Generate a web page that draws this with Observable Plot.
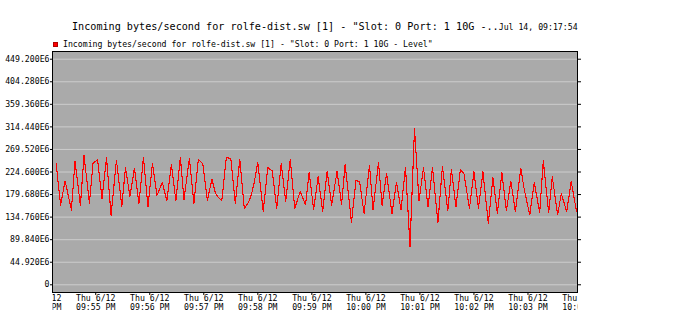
<!DOCTYPE html>
<html><head><meta charset="utf-8">
<script src="https://cdn.jsdelivr.net/npm/d3@7"></script>
<script src="https://cdn.jsdelivr.net/npm/@observablehq/plot@0.6"></script>
<style>
body{margin:0;background:#fff;}
#wrap{position:relative;width:686px;height:333px;overflow:hidden;font-family:"DejaVu Sans Mono",monospace;color:#000;}
#title{position:absolute;left:72px;top:22px;font-size:10.15px;line-height:10px;white-space:pre;}
#title span{font-size:8.2px;}
#swatch{position:absolute;left:53px;top:42px;width:3px;height:3px;background:#ff0000;border:1px solid #b00000;}
#legend{position:absolute;left:63px;top:40px;font-size:8.2px;line-height:8px;white-space:pre;}
#chart{position:absolute;left:0;top:50px;}
</style></head>
<body><div id="wrap">
<div id="title"></div>
<div id="swatch"></div>
<div id="legend"></div>
<div id="chart"></div>
</div>
<script>
const titleText = "Incoming bytes/second for rolfe-dist.sw [1] - \"Slot: 0 Port: 1 10G -..";
const titleStamp = "Jul 14, 09:17:54";
const seriesName = "Incoming bytes/second for rolfe-dist.sw [1] - \"Slot: 0 Port: 1 10G - Level\"";

// sample times (Thu 6/12, 24h clock) and values in units of 1E6 bytes/second
const times = [
"21:54:16","21:54:21","21:54:26","21:54:33","21:54:37","21:54:43","21:54:47","21:54:53","21:54:57","21:55:02",
"21:55:07","21:55:12","21:55:17","21:55:23","21:55:29","21:55:33","21:55:38","21:55:43","21:55:48","21:55:53",
"21:55:58","21:56:03","21:56:08","21:56:14","21:56:19","21:56:24","21:56:29","21:56:34","21:56:38","21:56:44",
"21:56:49","21:56:54","21:56:59","21:57:04","21:57:09","21:57:13","21:57:17","21:57:20","21:57:25","21:57:30",
"21:57:35","21:57:40","21:57:45","21:57:50","21:57:53","21:57:56","21:58:00","21:58:06","21:58:11","21:58:16",
"21:58:21","21:58:26","21:58:31","21:58:36","21:58:41","21:58:47","21:58:53","21:58:57","21:59:02","21:59:07",
"21:59:12","21:59:17","21:59:22","21:59:28","21:59:33","21:59:37","21:59:44","21:59:49","21:59:53","21:59:58",
"22:00:04","22:00:08","22:00:14","22:00:18","22:00:23","22:00:29","22:00:34","22:00:39","22:00:44","22:00:49",
"22:00:54","22:00:59","22:01:04","22:01:09","22:01:14","22:01:20","22:01:25","22:01:31","22:01:35","22:01:40",
"22:01:45","22:01:49","22:01:55","22:02:00","22:02:05","22:02:10","22:02:16","22:02:21","22:02:26","22:02:31",
"22:02:36","22:02:41","22:02:46","22:02:52","22:02:56","22:03:02","22:03:07","22:03:13","22:03:17","22:03:23",
"22:03:27","22:03:33","22:03:37","22:03:43","22:03:48","22:03:54"
];
const values = [
241.6,158.9,206.8,148.9,245.6,158.3,257.5,162.9,241.6,249.6,
171.7,253.5,138.3,248.2,155.7,233.6,175.7,232.2,161.7,253.5,
155.7,241.6,178.3,203.6,166.9,240.2,166.9,253.5,169.3,252.1,
162.3,250.1,240.2,168.3,210.2,182.3,172.3,166.9,253.5,251.5,
161.7,250.1,151.7,165.7,180.3,203.6,244.2,145.7,233.6,226.8,
151.7,241.6,165.7,250.1,151.7,185.7,159.3,223.6,150.3,215.2,
146.3,226.2,158.3,226.2,160.3,240.2,124.4,207.6,205.2,142.3,
238.2,149.3,244.2,158.3,221.2,141.7,203.6,149.3,234.2,76.5,
312.0,167.3,233.6,154.3,233.6,123.4,236.2,146.9,230.2,155.3,
230.2,220.8,151.7,225.2,152.3,225.2,121.8,213.6,142.3,223.6,
147.3,206.2,145.3,232.2,188.3,139.3,203.6,143.7,246.8,143.7,
214.8,139.0,181.7,145.7,205.6,145.7
];
const yTicks = [0, 44.92, 89.84, 134.76, 179.68, 224.6, 269.52, 314.44, 359.36, 404.28, 449.2];
const xTicks = ["21:54","21:55","21:56","21:57","21:58","21:59","22:00","22:01","22:02","22:03","22:04"];
const xDomain = ["21:54:12", "22:03:55"];
const yDomain = [-15.35, 464.55];

const parseT = s => { const [h, m, sec = 0] = s.split(":").map(Number); return new Date(2014, 5, 12, h, m, sec); };
const data = times.map((t, i) => ({t: parseT(t), v: values[i]}));

document.getElementById("title").innerHTML = "";
document.getElementById("title").append(titleText);
const st = document.createElement("span"); st.textContent = titleStamp;
document.getElementById("title").append(st);
document.getElementById("legend").textContent = seriesName;

const fmtDay = d3.timeFormat("%a %-m/%-d");
const fmtTime = d3.timeFormat("%I:%M %p");

const chart = Plot.plot({
  width: 686, height: 283,
  marginLeft: 52, marginRight: 109, marginTop: 1, marginBottom: 41,
  style: {fontFamily: "DejaVu Sans Mono, monospace", fontSize: "8.2px", background: "transparent", color: "black", overflow: "visible"},
  x: {type: "time", domain: xDomain.map(parseT)},
  y: {domain: yDomain},
  marks: [
    Plot.frame({fill: "#aaaaaa"}),
    Plot.gridY({ticks: yTicks, stroke: "#cdcdcd", strokeOpacity: 1, strokeWidth: 1}),
    Plot.line(data, {x: "t", y: "v", stroke: "#ff0000", strokeWidth: 1.1, shapeRendering: "crispEdges"}),
    Plot.frame({stroke: "black", strokeWidth: 1, shapeRendering: "crispEdges"}),
    Plot.axisY({ticks: yTicks, tickSize: 2, tickPadding: 1, label: null,
      tickFormat: d => d === 0 ? "0" : d3.format(".3f")(d) + "E6"}),
    Plot.axisY({anchor: "right", ticks: yTicks, tickSize: 3, label: null, tickFormat: () => ""}),
    Plot.axisX({ticks: xTicks.map(parseT), tickSize: 3, tickPadding: -1, label: null, lineHeight: 1.1,
      tickFormat: d => fmtDay(d) + "\n" + fmtTime(d)})
  ]
});
document.getElementById("chart").append(chart);

// clip x-axis labels to the plot's horizontal extent
const [x0, x1] = chart.scale("x").range;
const svg = d3.select(chart);
svg.append("defs").append("clipPath").attr("id", "xclip")
  .append("rect").attr("x", x0).attr("y", 0).attr("width", x1 - x0).attr("height", 400);
svg.selectAll('g[aria-label^="x-axis"]').attr("clip-path", "url(#xclip)");
</script>
</body></html>
